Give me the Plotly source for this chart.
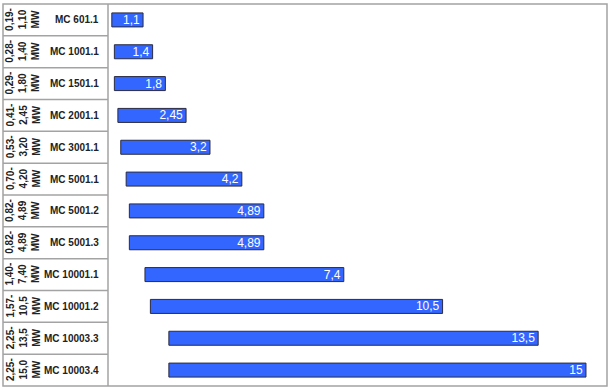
import plotly.graph_objects as go

models = ["MC 601.1", "MC 1001.1", "MC 1501.1", "MC 2001.1", "MC 3001.1", "MC 5001.1",
          "MC 5001.2", "MC 5001.3", "MC 10001.1", "MC 10001.2", "MC 10003.3", "MC 10003.4"]
min_label = ["0,19-", "0,28-", "0,29-", "0,41-", "0,53-", "0,70-",
             "0,82-", "0,82-", "1,40-", "1,57-", "2,25-", "2,25-"]
max_label = ["1,10", "1,40", "1,80", "2,45", "3,20", "4,20",
             "4,89", "4,89", "7,40", "10,5", "13,5", "15,0"]
bar_start = [0.12, 0.20, 0.20, 0.31, 0.40, 0.57, 0.67, 0.67, 1.16, 1.33, 1.91, 1.91]
bar_end = [1.1, 1.4, 1.8, 2.45, 3.2, 4.2, 4.89, 4.89, 7.4, 10.5, 13.5, 15.0]
end_text = ["1,1", "1,4", "1,8", "2,45", "3,2", "4,2", "4,89", "4,89", "7,4", "10,5", "13,5", "15"]

W, H = 610, 390
ML, MR, MT, MB = 108, 3, 4, 4
pw = W - ML - MR
FONT = "Arial, Liberation Sans, sans-serif"
LINE = "#a3a3a3"

n = len(models)
ypos = list(range(n))

fig = go.Figure(go.Bar(
    y=ypos, x=[e - s for s, e in zip(bar_start, bar_end)], base=bar_start,
    orientation="h", width=0.44,
    marker=dict(color="#3366ff", line=dict(color="#2b2b40", width=1)),
    text=end_text, textposition="inside", insidetextanchor="end",
    textangle=0, constraintext="none",
    textfont=dict(color="white", size=12, family=FONT),
    hoverinfo="skip",
))

def px(xp):
    return (xp - ML) / pw

shapes = [
    dict(type="rect", xref="paper", yref="paper", x0=px(3), x1=1, y0=0, y1=1,
         line=dict(color=LINE, width=1.5)),
    dict(type="line", xref="paper", yref="paper", x0=0, x1=0, y0=0, y1=1,
         line=dict(color=LINE, width=1.5)),
]
for k in range(n - 1):
    shapes.append(dict(type="line", xref="paper", yref="y", x0=px(3), x1=0,
                       y0=k + 0.5, y1=k + 0.5, line=dict(color=LINE, width=1.5)))

annotations = []
for i in range(n):
    annotations.append(dict(x=0, y=i, xref="paper", yref="y", text="<b>" + models[i] + "</b>",
                            showarrow=False, xanchor="right", xshift=-7,
                            font=dict(size=10, family=FONT, color="#222222")))
    annotations.append(dict(x=0, y=i, xref="paper", yref="y",
                            text="<b>" + min_label[i] + "<br>" + max_label[i] + "<br>MW</b>",
                            showarrow=False, xanchor="center", xshift=23 - ML, textangle=-90,
                            align="center",
                            font=dict(size=10, family=FONT, color="#222222")))

fig.update_layout(
    width=W, height=H, margin=dict(l=ML, r=MR, t=MT, b=MB),
    paper_bgcolor="white", plot_bgcolor="white", showlegend=False,
    xaxis=dict(range=[0, 15.66], visible=False),
    yaxis=dict(range=[n - 0.5, -0.5], visible=False),
    shapes=shapes, annotations=annotations,
    bargap=0.56,
)

fig.write_html("out.html", config={"displayModeBar": False},
               post_script="document.body.style.margin='0px';")
